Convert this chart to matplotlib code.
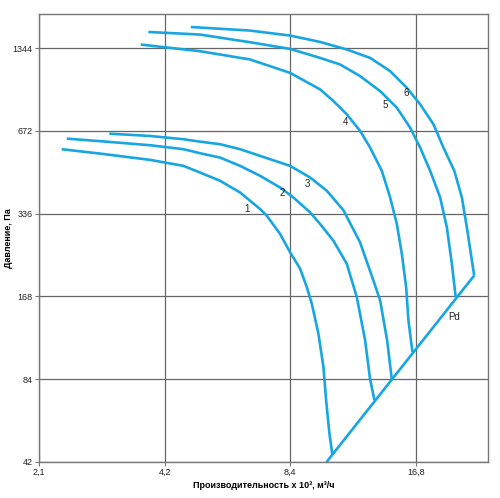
import matplotlib
matplotlib.use("Agg")
import matplotlib.pyplot as plt
from matplotlib.ticker import FixedLocator, FixedFormatter, NullLocator

plt.rcParams['font.family'] = ['Liberation Sans', 'DejaVu Sans']

# fan curves: flow (x 10^3 m3/h) vs pressure (Pa)
q1 = [2.380, 2.94, 3.875, 4.657, 5.106, 5.702, 6.367, 7.110, 7.378, 7.940, 8.391,
      8.867, 9.201, 9.458, 9.809, 10.084, 10.235, 10.423, 10.597]
p1 = [576.8, 556, 527.5, 501.7, 474.4, 442.7, 401.4, 349.5, 330.5, 283.6, 243.2,
      212, 181.6, 158.1, 123.0, 93.1, 70.5, 53.4, 44.5]

q2 = [2.447, 2.94, 3.875, 4.657, 5.106, 5.702, 6.367, 7.110, 7.940, 8.545, 9.370,
      9.902, 10.656, 11.473, 12.125, 12.693, 13.048, 13.361]
p2 = [630.2, 617, 596.4, 576.8, 557.8, 537.7, 501.7, 461.5, 418.5, 385.0, 339.7,
      308.3, 268, 220.8, 167.0, 116.3, 83.8, 70.5]

q3 = [3.095, 3.875, 4.657, 5.106, 5.702, 6.367, 7.110, 8.391, 9.370, 10.275, 11.260,
      12.347, 13.288, 13.788, 14.331, 14.708]
p3 = [657.0, 644.5, 627.0, 614.6, 601.4, 576.8, 545.4, 501.7, 455.0, 407.2, 346.0,
      264, 192.0, 162.5, 116.3, 83.8]

q4 = [3.681, 4.193, 5.106, 6.729, 8.391, 9.902, 10.656, 11.473, 12.347, 13.048,
      13.918, 14.571, 15.120, 15.542, 15.916, 16.119, 16.479]
p4 = [1386.0, 1355.1, 1310.6, 1222.8, 1093.3, 951.8, 863.4, 772.6, 672.0, 584.6,
      481.2, 385.0, 308.3, 240.0, 181.6, 137.5, 105.5]

q5 = [3.839, 5.106, 6.729, 8.391, 9.902, 11.057, 12.347, 13.788, 15.120, 16.271,
      17.194, 18.170, 19.201, 19.924, 20.481, 20.92]
p5 = [1539.8, 1506.7, 1412.9, 1336.0, 1239.3, 1172.8, 1063.6, 938.4, 816.4, 690.8,
      584.6, 481.2, 385.0, 299.7, 220.8, 167]

q6 = [4.851, 6.729, 8.391, 9.902, 11.473, 13.048, 14.571, 15.977, 17.194, 18.504,
      19.554, 20.76, 21.644, 22.249, 22.746, 23.164]
p6 = [1605.4, 1557.9, 1494.2, 1416.4, 1329.3, 1239.3, 1109.0, 964.6, 839.9, 710.7,
      584.6, 481.2, 385.0, 299.7, 240.0, 200.2]

# dynamic pressure line
q_pd = [10.26, 23.164]
p_pd = [42, 200.2]

x_ticks = [2.1, 4.2, 8.4, 16.8]
x_labels = ["2,1", "4,2", "8,4", "16,8"]
y_ticks = [42, 84, 168, 336, 672, 1344]
y_labels = ["42", "84", "168", "336", "672", "1344"]

blue = '#17a6e2'
fig = plt.figure(figsize=(5, 4.98), dpi=100)
ax = fig.add_axes([0.078, 0.0723, 0.898, 0.8996])
ax.set_xscale('log', base=2)
ax.set_yscale('log', base=2)

for q, p in [(q1, p1), (q2, p2), (q3, p3), (q4, p4), (q5, p5), (q6, p6), (q_pd, p_pd)]:
    ax.plot(q, p, color=blue, lw=1.9, solid_capstyle='butt', solid_joinstyle='round')

for txt, xx, yy in [("1", 6.63, 351), ("2", 8.03, 399), ("3", 9.22, 431),
                    ("4", 11.41, 725), ("5", 14.17, 833), ("6", 15.94, 921),
                    ("Pd", 20.74, 141)]:
    ax.text(xx, yy, txt, fontsize=7, ha='center', va='center', color='#222222')

ax.set_xlim(2.1, 25.0)
ax.set_ylim(42, 1790)
ax.xaxis.set_major_locator(FixedLocator(x_ticks))
ax.xaxis.set_major_formatter(FixedFormatter(x_labels))
ax.xaxis.set_minor_locator(NullLocator())
ax.yaxis.set_major_locator(FixedLocator(y_ticks))
ax.yaxis.set_major_formatter(FixedFormatter(y_labels))
ax.yaxis.set_minor_locator(NullLocator())

ax.grid(True, color='#666666', lw=0.9)
ax.set_axisbelow(True)
for s in ax.spines.values():
    s.set_color('#777777')
    s.set_linewidth(1.0)
ax.tick_params(axis='both', labelsize=6.5, colors='#222222', length=3, width=0.8, pad=1.5)
ax.tick_params(axis='both', color='#777777')

ax.set_xlabel("Производительность х 10³, м³/ч", fontsize=6.5, fontweight='bold', labelpad=3)
ax.set_ylabel("Давление, Па", fontsize=6.5, fontweight='bold')
ax.yaxis.set_label_coords(-0.058, 0.5)

plt.savefig("out.png", dpi=100)
